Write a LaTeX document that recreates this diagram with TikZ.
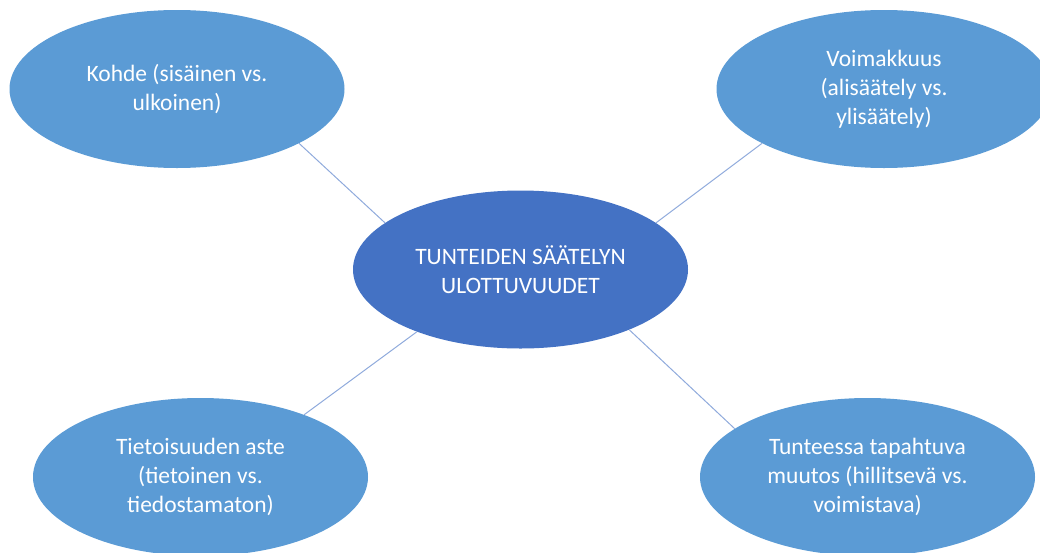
\documentclass[tikz,border=0pt]{standalone}
\usepackage{fontspec}
\setmainfont{Carlito}
\usetikzlibrary{shapes.geometric}
\definecolor{outerblue}{HTML}{5B9BD5}
\definecolor{centerblue}{HTML}{4472C4}
\definecolor{linkblue}{HTML}{8FAADC}
\tikzset{
  bubble/.style={ellipse, draw=none, fill=outerblue, text=white, inner sep=0pt,
    minimum width=335pt, minimum height=158pt, align=center,
    font=\fontsize{23.5}{29}\selectfont},
  hub/.style={bubble, fill=centerblue},
  link/.style={draw=linkblue, line width=1pt}
}
\begin{document}
\begin{tikzpicture}[x=1pt,y=-1pt]
\useasboundingbox (0,0) rectangle (1040,552);
\clip (0,0) rectangle (1040,552);
\node[hub] (c) at (520.5,269.5) {TUNTEIDEN SÄÄTELYN\\ULOTTUVUUDET};
\node[bubble] (tl) at (177,89) {Kohde (sisäinen vs.\\ulkoinen)};
\node[bubble] (tr) at (884,89) {Voimakkuus\\(alisäätely vs.\\ylisäätely)};
\node[bubble] (bl) at (200.5,477) {Tietoisuuden aste\\(tietoinen vs.\\tiedostamaton)};
\node[bubble] (br) at (867.5,477) {Tunteessa tapahtuva\\muutos (hillitsevä vs.\\voimistava)};
\draw[link] (tl.-24) -- (c.161);
\draw[link] (tr.204) -- (c.19);
\draw[link] (bl.31) -- (c.211);
\draw[link] (br.160) -- (c.-29);
\end{tikzpicture}
\end{document}
